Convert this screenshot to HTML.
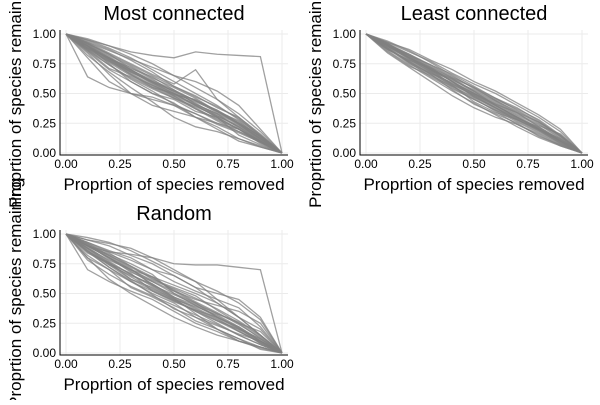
<!DOCTYPE html>
<html><head><meta charset="utf-8"><style>
body{margin:0;background:#fff;}
svg text{font-family:"Liberation Sans","DejaVu Sans",sans-serif;fill:#000;}
</style></head><body>
<svg id="c" width="600" height="400"></svg>
<script>
const xs=[0,0.1,0.2,0.3,0.4,0.5,0.6,0.7,0.8,0.9,1];
const ticks=[0,0.25,0.5,0.75,1];
const tickLabels=["0.00","0.25","0.50","0.75","1.00"];
const titles=["Most connected","Least connected","Random"];
const mostConnected=[
[1,.95,.9,.85,.82,.8,.85,.83,.82,.81,0],
[1,.93,.86,.79,.72,.65,.6,.52,.4,.2,0],
[1,.64,.55,.5,.47,.4,.33,.25,.18,.1,0],
[1,.8,.6,.5,.45,.4,.3,.22,.12,.05,0],
[1,.9,.8,.7,.6,.5,.4,.3,.2,.1,0],
[1,.88,.77,.66,.56,.47,.38,.28,.2,.1,0],
[1,.92,.82,.73,.63,.55,.46,.35,.25,.12,0],
[1,.85,.7,.6,.5,.45,.35,.3,.2,.08,0],
[1,.9,.75,.6,.5,.42,.3,.2,.1,.05,0],
[1,.95,.88,.8,.7,.6,.5,.4,.28,.15,0],
[1,.87,.74,.62,.52,.41,.33,.24,.17,.09,0],
[1,.91,.8,.68,.6,.52,.44,.36,.25,.14,0],
[1,.82,.68,.55,.43,.3,.22,.18,.12,.06,0],
[1,.94,.87,.78,.68,.56,.48,.38,.3,.16,0],
[1,.89,.79,.72,.62,.51,.42,.31,.22,.11,0],
[1,.86,.71,.64,.55,.5,.4,.3,.15,.07,0],
[1,.93,.84,.75,.66,.58,.7,.45,.3,.15,0],
[1,.9,.78,.69,.58,.48,.37,.27,.18,.09,0],
[1,.84,.66,.5,.4,.35,.3,.25,.2,.1,0],
[1,.96,.9,.83,.75,.65,.55,.45,.33,.18,0],
[1,.88,.8,.7,.59,.49,.45,.35,.24,.12,0],
[1,.92,.83,.71,.64,.53,.41,.33,.21,.1,0],
[1,.9,.79,.67,.57,.49,.41,.33,.24,.11,0],
[1,.89,.78,.66,.55,.46,.39,.31,.23,.12,0],
[1,.91,.81,.7,.61,.53,.44,.34,.25,.13,0],
[1,.87,.76,.65,.57,.48,.4,.32,.22,.1,0],
[1,.92,.83,.74,.65,.56,.47,.39,.29,.14,0],
[1,.88,.77,.68,.59,.5,.43,.35,.27,.13,0],
[1,.9,.79,.69,.6,.52,.44,.36,.26,.14,0],
[1,.86,.74,.63,.54,.46,.37,.29,.2,.09,0]];
const leastConnected=[
[1,.9,.8,.7,.6,.5,.4,.3,.2,.1,0],
[1,.92,.83,.74,.64,.55,.46,.36,.26,.14,0],
[1,.88,.77,.66,.55,.45,.36,.26,.17,.08,0],
[1,.91,.8,.71,.62,.52,.43,.33,.24,.12,0],
[1,.87,.78,.68,.58,.48,.38,.27,.18,.09,0],
[1,.93,.85,.77,.67,.58,.5,.4,.3,.18,0],
[1,.86,.74,.63,.52,.42,.32,.22,.13,.06,0],
[1,.9,.82,.72,.6,.47,.38,.29,.22,.11,0],
[1,.89,.79,.69,.61,.53,.44,.35,.25,.13,0],
[1,.9,.81,.7,.57,.43,.34,.28,.19,.1,0],
[1,.94,.86,.76,.65,.54,.45,.37,.28,.15,0],
[1,.88,.76,.67,.59,.5,.41,.31,.21,.1,0],
[1,.85,.73,.65,.56,.46,.35,.24,.16,.07,0],
[1,.91,.83,.73,.63,.52,.4,.3,.2,.1,0],
[1,.9,.8,.7,.62,.51,.42,.32,.23,.16,0],
[1,.92,.81,.69,.58,.49,.39,.3,.2,.09,0],
[1,.87,.78,.71,.6,.5,.41,.34,.22,.11,0],
[1,.9,.79,.68,.56,.47,.37,.28,.19,.08,0],
[1,.84,.72,.6,.48,.38,.3,.24,.15,.06,0],
[1,.93,.87,.78,.7,.6,.52,.42,.32,.2,0],
[1,.89,.76,.64,.54,.45,.36,.28,.2,.12,0],
[1,.91,.82,.74,.66,.56,.46,.38,.27,.14,0],
[1,.88,.75,.66,.53,.41,.33,.25,.14,.07,0],
[1,.9,.8,.72,.63,.55,.44,.34,.26,.15,0],
[1,.87,.77,.67,.57,.49,.4,.3,.21,.1,0],
[1,.92,.82,.71,.6,.48,.38,.29,.2,.1,0]];
const randomRemoval=[
[1,.95,.92,.88,.8,.75,.74,.74,.72,.7,0],
[1,.9,.85,.83,.8,.7,.6,.45,.3,.15,0],
[1,.7,.6,.52,.45,.35,.25,.18,.1,.05,0],
[1,.8,.62,.5,.4,.3,.22,.15,.1,.05,0],
[1,.9,.8,.7,.6,.5,.4,.3,.2,.1,0],
[1,.93,.86,.8,.7,.65,.55,.5,.45,.3,0],
[1,.85,.72,.6,.5,.42,.3,.2,.12,.05,0],
[1,.88,.76,.62,.55,.45,.35,.25,.15,.07,0],
[1,.95,.9,.82,.75,.65,.55,.42,.3,.15,0],
[1,.82,.7,.55,.47,.38,.27,.2,.12,.03,0],
[1,.9,.8,.68,.6,.52,.45,.4,.35,.25,0],
[1,.87,.74,.65,.58,.47,.38,.29,.18,.09,0],
[1,.92,.84,.73,.62,.55,.48,.36,.25,.12,0],
[1,.78,.66,.56,.48,.4,.32,.24,.15,.07,0],
[1,.97,.93,.86,.77,.68,.6,.52,.42,.28,0],
[1,.86,.72,.61,.49,.37,.3,.23,.16,.1,0],
[1,.9,.83,.75,.66,.5,.42,.33,.25,.18,0],
[1,.84,.75,.67,.52,.44,.35,.27,.2,.12,0],
[1,.93,.85,.78,.7,.6,.52,.45,.38,.22,0],
[1,.88,.78,.7,.64,.57,.5,.42,.3,.2,0],
[1,.8,.7,.6,.52,.43,.36,.3,.22,.1,0],
[1,.91,.81,.71,.57,.46,.33,.2,.1,.04,0],
[1,.89,.77,.66,.56,.46,.37,.28,.19,.08,0],
[1,.92,.82,.72,.63,.53,.43,.34,.24,.13,0],
[1,.86,.74,.62,.53,.44,.36,.27,.18,.09,0],
[1,.9,.8,.7,.61,.54,.46,.37,.27,.15,0],
[1,.88,.75,.64,.54,.45,.39,.32,.22,.11,0],
[1,.91,.79,.69,.58,.47,.4,.31,.21,.1,0],
[1,.85,.76,.66,.57,.49,.41,.33,.26,.14,0],
[1,.9,.82,.73,.64,.52,.42,.3,.21,.08,0]];
const datasets=[mostConnected,leastConnected,randomRemoval];
const offsets=[[0,0],[300,0],[0,200]];
const NS="http://www.w3.org/2000/svg";
const svg=document.getElementById("c");
function mk(tag,attrs,parent){const e=document.createElementNS(NS,tag);for(const k in attrs)e.setAttribute(k,attrs[k]);parent.appendChild(e);return e;}
datasets.forEach((data,p)=>{
  const ox=offsets[p][0],oy=offsets[p][1];
  const g=mk("g",{},svg);
  
  
  const X=v=>ox+66+v*216, Y=v=>oy+153-v*119;
  ticks.forEach((t,i)=>{
    const gx=mk("line",{x1:X(t),x2:X(t),y1:oy+30,y2:oy+155,stroke:"#ebebeb","stroke-width":1},g);
    
    
    const gy=mk("line",{x1:ox+60,x2:ox+288,y1:Y(t),y2:Y(t),stroke:"#ebebeb","stroke-width":1},g);
    
    
  });
  data.forEach(ys=>{
    const pl=mk("polyline",{points:ys.map((v,i)=>X(xs[i])+","+Y(v)).join(" "),fill:"none",stroke:"rgba(128,128,128,0.75)","stroke-width":1.3},g);
    
    
  });
  const ax=mk("path",{d:`M${ox+60},${oy+30}V${oy+155}H${ox+288}`,stroke:"#000",fill:"none","stroke-width":1},g);
  
  
  ticks.forEach((t,i)=>{
    const tx=mk("text",{x:X(t),y:oy+168,"font-size":12,"text-anchor":"middle"},g);tx.textContent=tickLabels[i];
    
    
    const ty=mk("text",{x:ox+56,y:Y(t)+4,"font-size":12,"text-anchor":"end"},g);ty.textContent=tickLabels[i];
    
    
  });
  const ti=mk("text",{x:ox+174,y:oy+20,"font-size":20,"text-anchor":"middle"},g);ti.textContent=titles[p];
  
  
  const xl=mk("text",{x:ox+174,y:oy+190,"font-size":17,"text-anchor":"middle"},g);xl.textContent="Proprtion of species removed";
  
  
  const yl=mk("text",{x:0,y:0,"font-size":17,"text-anchor":"middle",transform:`translate(${ox+21},${oy+93}) rotate(-90)`},g);yl.textContent="Proprtion of species remaining";
  
  
});
</script>
</body></html>
